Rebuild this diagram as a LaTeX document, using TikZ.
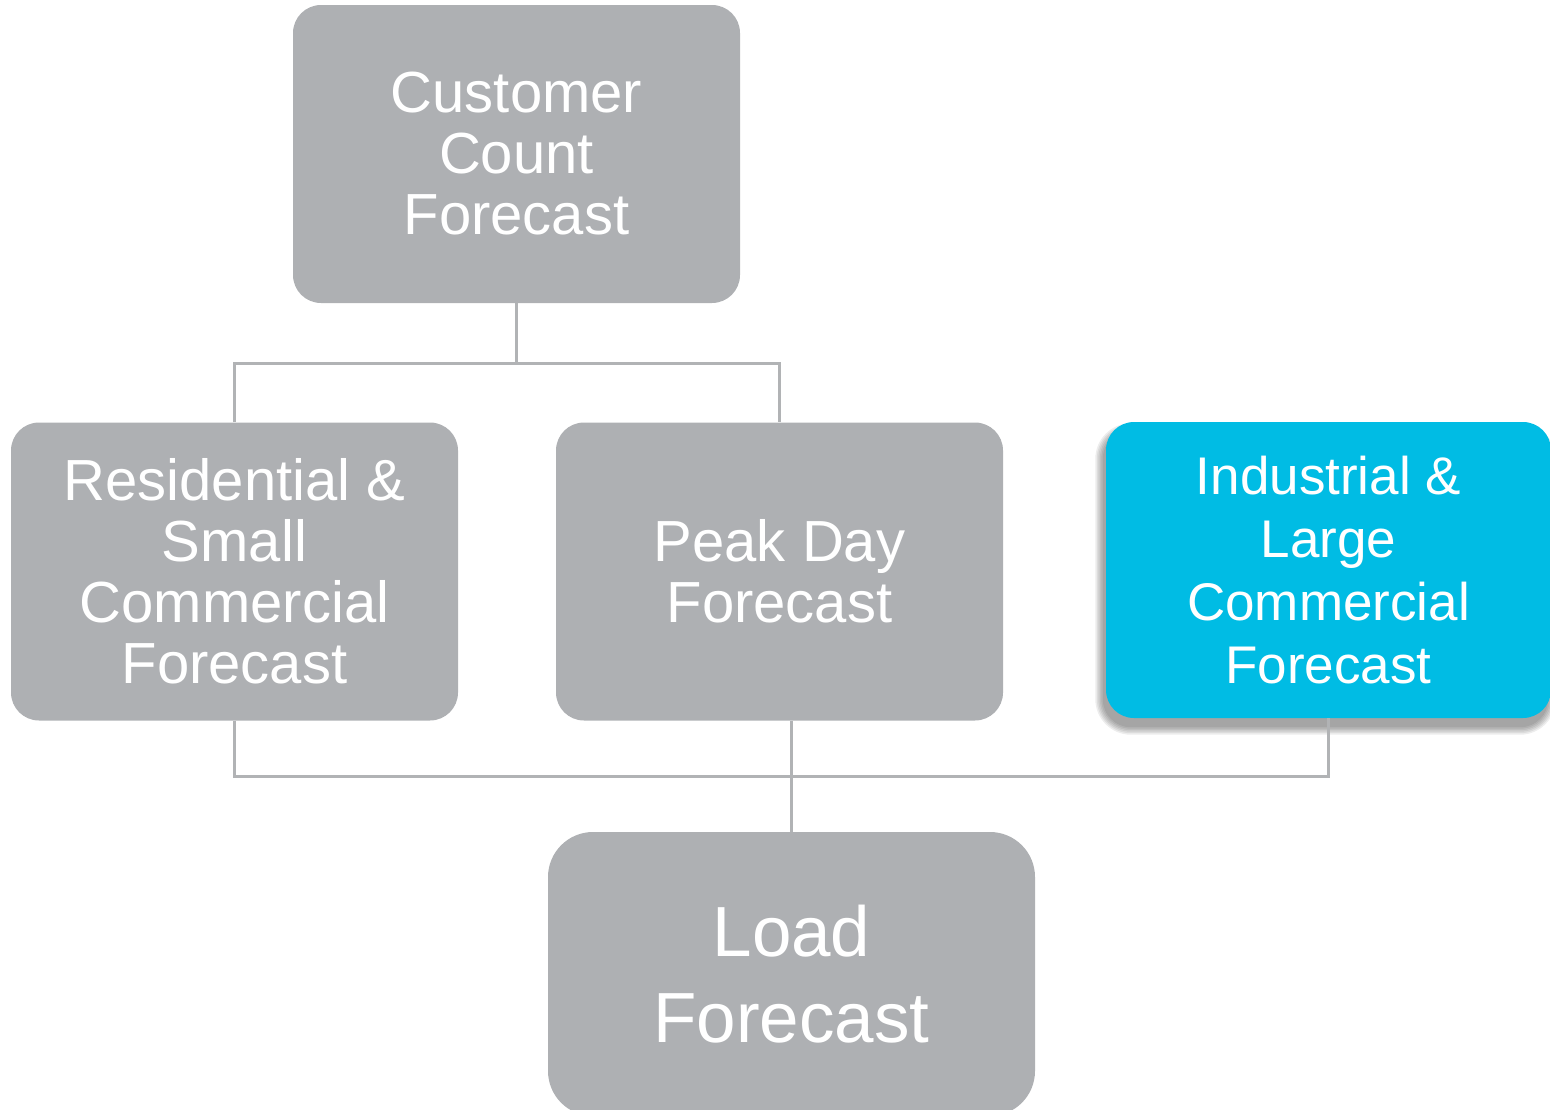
\documentclass[tikz,border=0pt]{standalone}
\usepackage{fontspec}
\setmainfont{Liberation Sans}
\usetikzlibrary{backgrounds}
\definecolor{boxgray}{HTML}{AEB0B3}
\definecolor{boxcyan}{HTML}{00BCE4}
\definecolor{linegray}{HTML}{B1B3B5}
\tikzset{
  box/.style={fill=boxgray, rounded corners=28pt, inner sep=0pt, text=white, align=center,
    minimum width=447pt, minimum height=298pt, font=\fontsize{58}{61}\selectfont},
  cyanbox/.style={box, fill=boxcyan, font=\fontsize{53}{63}\selectfont},
  loadbox/.style={box, rounded corners=45pt, minimum width=487pt, minimum height=284pt,
    font=\fontsize{71}{86}\selectfont},
  conn/.style={draw=linegray, line width=3pt}
}
\begin{document}
\begin{tikzpicture}[x=1pt, y=-1pt]
\useasboundingbox (0,0) rectangle (1550,1109);
\begin{scope}
\clip (0,0) rectangle (1550,1109);
\node[box] (cust) at (516.5,154) {Customer\\Count\\Forecast};
\node[box] (res) at (234.5,571.5) {Residential \&\\Small\\Commercial\\Forecast};
\node[box] (peak) at (779.5,571.5) {Peak Day\\Forecast};
\node[cyanbox, minimum width=445pt, minimum height=296pt] (ind) at (1328.5,570) {Industrial \&\\Large\\Commercial\\Forecast};
\node[loadbox] (load) at (791.5,974) {Load\\Forecast};
\begin{scope}[on background layer]
\foreach \e in {0,1.5,...,7.5}{
  \fill[black, opacity=0.07, rounded corners=28pt+\e pt]
    ([xshift=-3pt-\e pt, yshift=-9pt+\e pt]ind.north west) rectangle
    ([xshift=-3pt+\e pt, yshift=-9pt-\e pt]ind.south east);
}
\end{scope}
\end{scope}
\draw[conn] (cust.south) -- ++(0,60) coordinate (tj);
\draw[conn] (res.north) |- (tj) -| (peak.north);
\draw[conn] (res.south) -- ++(0,56) -| (ind.south);
\draw[conn] (load.north |- peak.south) -- (load.north);
\end{tikzpicture}
\end{document}
